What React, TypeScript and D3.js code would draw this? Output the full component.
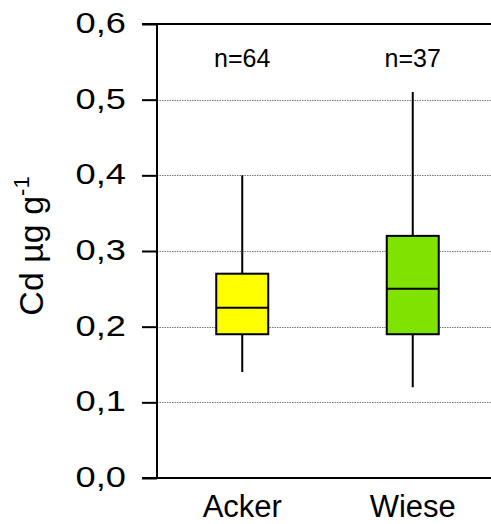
import React, { useEffect, useRef } from 'react';
import * as d3 from 'd3';

// categories and box statistics
const categories = ['Acker', 'Wiese'];
const counts = ['n=64', 'n=37'];
const whiskerLow = [0.14, 0.12];
const q1 = [0.19, 0.19];
const median = [0.225, 0.25];
const q3 = [0.27, 0.32];
const whiskerHigh = [0.4, 0.51];
const boxColors = ['#ffff00', '#80e200'];
const yTicks = [0, 0.1, 0.2, 0.3, 0.4, 0.5, 0.6];
const gridTicks = [0.1, 0.2, 0.3, 0.4, 0.5];

const App = () => {
  const width = 491;
  const height = 524;
  const margin = { top: 24, left: 157, bottom: 46 };
  const ref = useRef<SVGSVGElement>(null);

  useEffect(() => {
    const svg = d3.select(ref.current);
    svg.selectAll('*').remove();

    const plotRight = 498;
    const y = d3.scaleLinear().domain([0, 0.6]).range([height - margin.bottom, margin.top]);
    const x = d3.scalePoint().domain(categories).range([margin.left, plotRight]).padding(0.5);
    const boxW = x.step() * 0.305;
    const font = 'Arial, "Liberation Sans", sans-serif';

    // dotted grid lines
    svg.append('g')
      .selectAll('line')
      .data(gridTicks)
      .join('line')
      .attr('x1', margin.left)
      .attr('x2', plotRight)
      .attr('y1', (d) => Math.round(y(d)) + 0.5)
      .attr('y2', (d) => Math.round(y(d)) + 0.5)
      .attr('stroke', '#777')
      .attr('stroke-width', 1)
      .attr('stroke-dasharray', '1.5,1');

    // top and bottom frame lines (extend left like ticks)
    [0, 0.6].forEach((v) => {
      svg.append('line')
        .attr('x1', margin.left - 15)
        .attr('x2', plotRight)
        .attr('y1', y(v))
        .attr('y2', y(v))
        .attr('stroke', '#000')
        .attr('stroke-width', 2);
    });

    // y axis with major + minor ticks
    const axis = svg.append('g').attr('transform', `translate(${margin.left},0)`);
    axis.call(
      d3.axisLeft(y).tickValues(d3.range(0, 0.6001, 0.02)).tickSize(9).tickFormat(() => '')
    );
    axis.call(d3.axisLeft(y).tickValues(yTicks).tickSize(15).tickFormat(() => ''));
    axis.selectAll('.domain').attr('stroke-width', 2).attr('d', `M0,${y(0)}V${y(0.6)}`);
    axis.selectAll('.tick line').attr('stroke-width', 2);

    // tick labels
    svg.append('g')
      .selectAll('text')
      .data(yTicks)
      .join('text')
      .attr('transform', (d) => `translate(126,${y(d) + 9}) scale(1.25,1)`)
      .attr('text-anchor', 'end')
      .attr('font-family', font)
      .attr('font-size', 29)
      .attr('fill', '#000')
      .text((d) => d.toFixed(1).replace('.', ','));

    // y axis title
    const title = svg.append('text')
      .attr('transform', `translate(43,246) rotate(-90)`)
      .attr('text-anchor', 'middle')
      .attr('font-family', font)
      .attr('font-size', 34)
      .attr('fill', '#000');
    title.append('tspan').text('Cd µg g');
    title.append('tspan').attr('font-size', 22).attr('dy', -14).text('-1');

    // boxes
    const g = svg.append('g')
      .selectAll('g')
      .data(categories)
      .join('g');

    g.append('line')
      .attr('x1', (d) => x(d)!)
      .attr('x2', (d) => x(d)!)
      .attr('y1', (_, i) => y(whiskerLow[i]))
      .attr('y2', (_, i) => y(whiskerHigh[i]))
      .attr('stroke', '#000')
      .attr('stroke-width', 2);

    g.append('rect')
      .attr('x', (d) => x(d)! - boxW / 2)
      .attr('width', boxW)
      .attr('y', (_, i) => y(q3[i]))
      .attr('height', (_, i) => y(q1[i]) - y(q3[i]))
      .attr('fill', (_, i) => boxColors[i])
      .attr('stroke', '#000')
      .attr('stroke-width', 2);

    g.append('line')
      .attr('x1', (d) => x(d)! - boxW / 2)
      .attr('x2', (d) => x(d)! + boxW / 2)
      .attr('y1', (_, i) => y(median[i]))
      .attr('y2', (_, i) => y(median[i]))
      .attr('stroke', '#000')
      .attr('stroke-width', 2);

    g.append('text')
      .attr('x', (d) => x(d)!)
      .attr('y', 67)
      .attr('text-anchor', 'middle')
      .attr('font-family', font)
      .attr('font-size', 25)
      .attr('fill', '#000')
      .text((_, i) => counts[i]);

    g.append('text')
      .attr('x', (d) => x(d)!)
      .attr('y', 517)
      .attr('text-anchor', 'middle')
      .attr('font-family', font)
      .attr('font-size', 31)
      .attr('fill', '#000')
      .text((d) => d);
  }, []);

  return (
    <svg
      ref={ref}
      width={width}
      height={height}
      style={{ position: 'absolute', left: 0, top: 0, background: '#fff' }}
    />
  );
};

export default App;
